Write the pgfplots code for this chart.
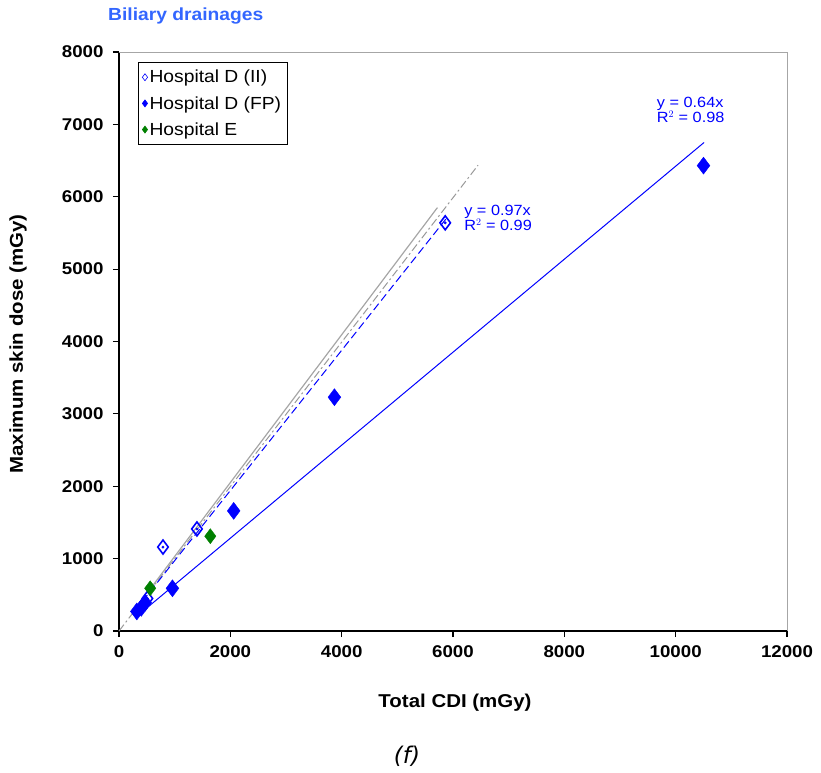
\documentclass[border=0pt]{standalone}
\usepackage{pgfplots}
\pgfplotsset{compat=1.18}
\usepackage{fontspec}
\setmainfont{Liberation Sans}[FakeStretch=1.1]
\newfontfamily\verdana{DejaVu Sans}
\definecolor{ttl}{RGB}{51,102,255}
\definecolor{lblue}{RGB}{0,0,255}
\definecolor{egreen}{RGB}{0,128,0}
\begin{document}
\begin{tikzpicture}[x=1pt,y=1pt]
\path[use as bounding box] (-119,-141) rectangle (702,631);
\begin{axis}[
  at={(0,0)}, anchor=south west,
  scale only axis, width=668pt, height=579pt,
  xmin=0, xmax=12000, ymin=0, ymax=8000,
  xtick={0,2000,...,12000}, ytick={0,1000,...,8000},
  axis x line*=bottom, axis y line*=left,
  axis line style={black, line width=1.2pt, -},
  tick align=outside, major tick length=6pt,
  tick style={black, line width=1.2pt},
  /pgf/number format/assume math mode=true,
  /pgf/number format/1000 sep={},
  scaled ticks=false,
  ticklabel style={font=\fontsize{17}{19}\selectfont\bfseries},
  xticklabel shift=5pt,
  yticklabel shift=6pt,
  clip=false,
  legend style={at={(rel axis cs:0.0285,0.983)}, anchor=north west,
    draw=black, line width=0.6pt, font=\fontsize{17.5}{20}\selectfont,
    inner xsep=4pt, inner ysep=6pt, row sep=8pt, cells={anchor=west}},
  legend cell align=left,
  legend image code/.code={\draw[#1] plot coordinates {(0.22cm,0cm)};},
  legend image post style={mark size=3.5pt, line width=0.6pt},
]
\draw[gray!70, line width=1pt] (rel axis cs:0,1) -- (rel axis cs:1,1) -- (rel axis cs:1,0);
% Hospital D (II)
\addplot[only marks, mark=diamond, mark size=7pt, draw=lblue, line width=1.6pt] coordinates {
 (790,1160) (1400,1410) (510,450) (5860,5640)};
\addlegendentry{Hospital D (II)}
% Hospital D (FP)
\addplot[only marks, mark=diamond*, mark size=8.5pt, draw=lblue, fill=lblue] coordinates {
 (10500,6430) (3870,3230) (2060,1660) (960,590) (320,270) (400,320) (470,390)};
\addlegendentry{Hospital D (FP)}
% Hospital E
\addplot[only marks, mark=diamond*, mark size=7.5pt, draw=egreen, fill=egreen] coordinates {
 (560,590) (1640,1310)};
\addlegendentry{Hospital E}
% dots inside open diamonds
\addplot[only marks, mark=*, mark size=1.2pt, lblue, forget plot] coordinates {
 (790,1160) (1400,1410) (510,450) (5860,5640)};
% trend lines
\addplot[gray!80, line width=1pt, dash pattern=on 8pt off 3pt on 2pt off 3pt, forget plot] coordinates {(0,0) (6450,6436)};
\addplot[gray!70, line width=1.2pt, forget plot] coordinates {(550,570) (5720,5850)};
\addplot[lblue, line width=1pt, dash pattern=on 8pt off 4pt, forget plot] coordinates {(420,410) (5870,5690)};
\addplot[lblue, line width=1pt, forget plot] coordinates {(300,190) (10510,6750)};
\node[lblue, anchor=west, font=\fontsize{14.8}{16}\selectfont, align=left, inner sep=0pt] at (axis cs:6200,5710) {y = 0.97x\\[-1pt]R$^2$ = 0.99};
\node[lblue, anchor=west, font=\fontsize{14.8}{16}\selectfont, align=left, inner sep=0pt] at (axis cs:9660,7200) {y = 0.64x\\[-1pt]R$^2$ = 0.98};
\end{axis}
\node[font=\fontsize{17.5}{20}\selectfont\bfseries, text=ttl, anchor=west, inner sep=0pt] at (-11,615) {Biliary drainages};
\node[font=\fontsize{18.6}{21}\selectfont\bfseries, inner sep=0pt] at (336,-72) {Total CDI (mGy)};
\node[font=\fontsize{18.6}{21}\selectfont\bfseries, rotate=90, inner sep=0pt] at (-101,287) {Maximum skin dose (mGy)};
\node[font=\fontsize{23}{26}\selectfont\verdana\itshape, inner sep=0pt] at (288,-125) {(f)};
\end{tikzpicture}
\end{document}
